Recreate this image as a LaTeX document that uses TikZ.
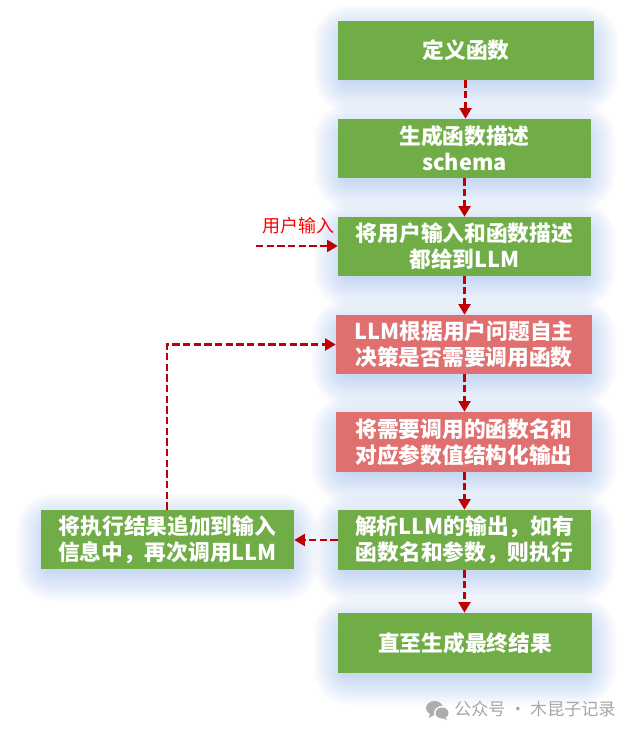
\documentclass[tikz,border=0pt]{standalone}
\usepackage{fontspec}
\setmainfont{Noto Sans CJK SC}
\newfontfamily\wmfont{Noto Sans CJK SC}
\definecolor{gbox}{HTML}{70AD47}
\definecolor{rbox}{HTML}{E07070}
\definecolor{arrowred}{HTML}{C00000}
\definecolor{halo}{HTML}{75A5EA}
\usetikzlibrary{arrows.meta,calc}
\tikzset{
  flowbox/.style={inner sep=0pt,text=white,font=\fontsize{16.3}{19.6}\selectfont\bfseries,align=center},
  flow/.style={draw=arrowred,line width=1.8pt,dash pattern=on 5.5pt off 2.5pt,-{Triangle[length=8pt,width=9pt,fill=arrowred]}},
  note/.style={inner sep=0pt,text=red,font=\fontsize{13.5}{16}\selectfont},
  mark text/.style={inner sep=0pt,text=black!35,font=\fontsize{12.8}{15}\wmfont,anchor=west},
  wechat/.style={fill=black!32}
}
\newcommand{\haloat}[4]{%
  \foreach \g in {24,21.5,...,-8}{
    \fill[halo,opacity=0.035,rounded corners={(\g+12)*0.75pt}]
      (#1-\g,#2+8-\g) rectangle (#3+\g,#4+8+\g);
  }}
\begin{document}
\begin{tikzpicture}[x=0.75pt,y=-0.75pt]
\useasboundingbox (0,0) rectangle (635,734);
\fill[white] (0,0) rectangle (635,734);
\haloat{338}{21}{594}{80}
\haloat{338}{119}{591}{178}
\haloat{338}{217}{591}{276}
\haloat{336}{315}{592}{374}
\haloat{336}{412}{592}{472}
\haloat{338}{510}{591}{570}
\haloat{338}{613}{592}{673}
\haloat{41}{510}{294}{569}
\node[flowbox,fill=gbox,minimum width=192pt,minimum height=44.25pt] (n1) at (466,50.5) {定义函数};
\node[flowbox,fill=gbox,minimum width=189.75pt,minimum height=44.25pt] (n2) at (464.5,148.5) {生成函数描述\\schema};
\node[flowbox,fill=gbox,minimum width=189.75pt,minimum height=44.25pt] (n3) at (464.5,246.5) {将用户输入和函数描述\\都给到LLM};
\node[flowbox,fill=rbox,minimum width=192pt,minimum height=44.25pt] (n4) at (464,344.5) {LLM根据用户问题自主\\决策是否需要调用函数};
\node[flowbox,fill=rbox,minimum width=192pt,minimum height=45pt] (n5) at (464,442) {将需要调用的函数名和\\对应参数值结构化输出};
\node[flowbox,fill=gbox,minimum width=189.75pt,minimum height=45pt] (n6) at (464.5,540) {解析LLM的输出，如有\\函数名和参数，则执行};
\node[flowbox,fill=gbox,minimum width=190.5pt,minimum height=45pt] (n7) at (465,643) {直至生成最终结果};
\node[flowbox,fill=gbox,minimum width=189.75pt,minimum height=44.25pt] (n8) at (167.5,539.5) {将执行结果追加到输入\\信息中，再次调用LLM};
\coordinate (c1) at (465.5,0);
\coordinate (c2) at (464.5,0);
\coordinate (c8) at (167,0);
\coordinate (inp) at (256,246);
\node[note] (lbl) at (298.5,226) {用户输入};
\draw[flow] (n1.south -| c1) -- (n2.north -| c1);
\draw[flow] (n2.south -| c2) -- (n3.north -| c2);
\draw[flow] (n3.south -| c2) -- (n4.north -| c2);
\draw[flow] (n4.south -| c2) -- (n5.north -| c2);
\draw[flow] (n5.south -| c2) -- (n6.north -| c2);
\draw[flow] (n6.south -| c2) -- (n7.north -| c2);
\draw[flow] (inp) -- (inp -| n3.west);
\draw[flow] (n6.west) -- (n8.east |- n6.west);
\draw[flow] (n8.north -| c8) -- (c8 |- n4.west) -- (n4.west);
% watermark
\fill[wechat] (434.5,708) ellipse [x radius=8.5pt*0.75,y radius=7pt*0.75];
\fill[wechat] (430,713) -- (429,718) -- (435,714.5) -- cycle;
\fill[white] (442,713) ellipse [x radius=8pt*0.75,y radius=7pt*0.75];
\fill[wechat] (442,713) ellipse [x radius=6.5pt*0.75,y radius=5.5pt*0.75];
\fill[wechat] (445,717) -- (447,720) -- (441,717.5) -- cycle;
\node[mark text] (wm) at (454,708.5) {公众号 · 木昆子记录};
\end{tikzpicture}
\end{document}
